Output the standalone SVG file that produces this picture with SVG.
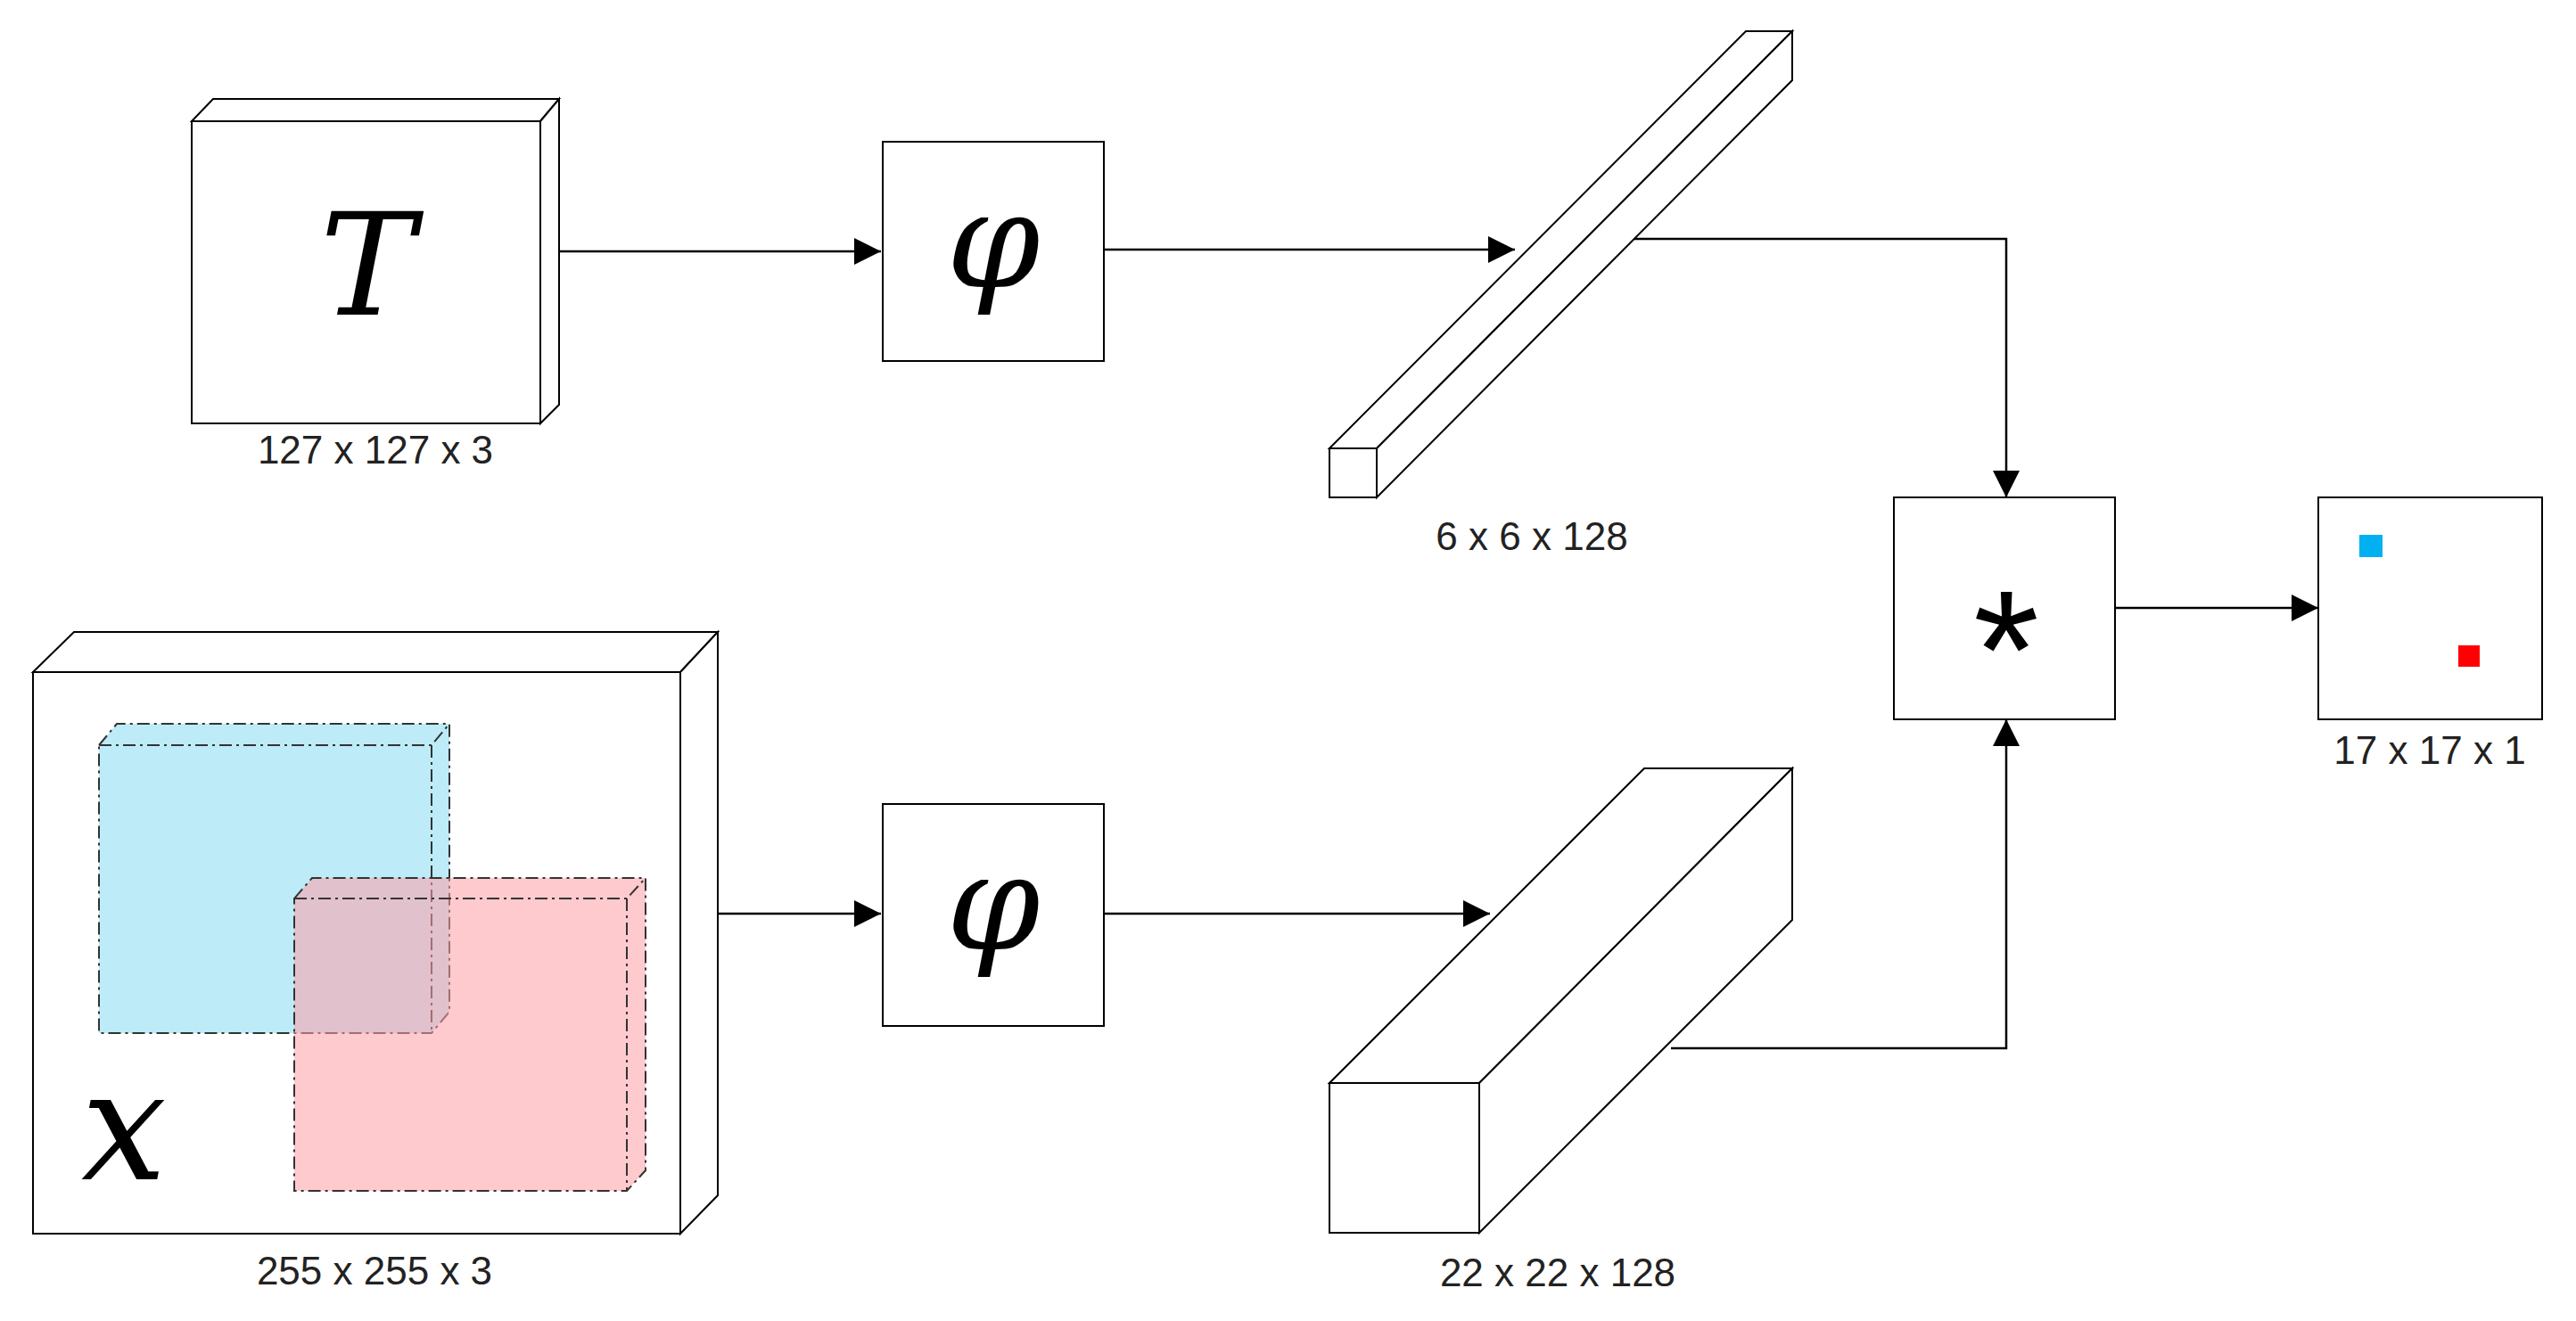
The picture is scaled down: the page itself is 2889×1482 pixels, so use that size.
<svg xmlns="http://www.w3.org/2000/svg" width="2889" height="1482" viewBox="0 0 2889 1482">
<style>
.s{fill:#fff;stroke:#000;stroke-width:2}
.c{fill:none;stroke:#000;stroke-width:2.5}
.lbl{font-family:"Liberation Sans",Arial,sans-serif;font-size:44px;fill:#222;text-anchor:middle}
.m{font-family:"DejaVu Serif","Liberation Serif",serif;font-style:italic;fill:#000;text-anchor:middle}
.dd{stroke:#333;stroke-width:2;stroke-dasharray:14 5 3 5}
</style>
<defs>
<marker id="a" viewBox="0 0 10 10" refX="10" refY="5" markerWidth="30" markerHeight="30" markerUnits="userSpaceOnUse" orient="auto"><path d="M0,0L10,5L0,10z" fill="#000"/></marker>
</defs>
<rect width="2889" height="1482" fill="#fff"/>
<g id="T">
<path class="s" d="M215,136L239,111L627,111L606,136z"/>
<path class="s" d="M606,136L627,111L627,454L606,475z"/>
<rect class="s" x="215" y="136" width="391" height="339"/>
<text class="m" x="412" y="353" font-size="160">T</text>
<text class="lbl" x="421" y="520">127 x 127 x 3</text>
</g>
<g id="phi1">
<rect class="s" x="990" y="159" width="248" height="246"/>
<text class="m" x="1114" y="322" font-size="150">φ</text>
</g>
<g id="bar1">
<path class="s" d="M1491,503L1958,35L2010,35L1544,503z"/>
<path class="s" d="M1544,503L2010,35L2010,90L1544,558z"/>
<rect class="s" x="1491" y="503" width="53" height="55"/>
<text class="lbl" x="1718" y="617">6 x 6 x 128</text>
</g>
<g id="X">
<path class="s" d="M37,754L83,709L805,709L763,754z"/>
<path class="s" d="M763,754L805,709L805,1341L763,1384z"/>
<rect class="s" x="37" y="754" width="726" height="630"/>
<g>
<path class="dd" fill="#bdebf8" d="M111,836L131,812L504,812L504,1135L484,1159L111,1159z"/>
<path class="dd" fill="none" d="M111,836L484,836L504,812M484,836L484,1159"/>
</g>
<g>
<path class="dd" fill="#ff9fa6" fill-opacity="0.55" d="M330,1008L350,985L724,985L724,1313L703,1336L330,1336z"/>
<path class="dd" fill="none" d="M330,1008L703,1008L724,985M703,1008L703,1336"/>
</g>
<text class="m" x="139" y="1323" font-size="170">x</text>
<text class="lbl" x="420" y="1441">255 x 255 x 3</text>
</g>
<g id="phi2">
<rect class="s" x="990" y="902" width="248" height="249"/>
<text class="m" x="1114" y="1065" font-size="150">φ</text>
</g>
<g id="bar2">
<path class="s" d="M1491,1215L1844,862L2010,862L1659,1215z"/>
<path class="s" d="M1659,1215L2010,862L2010,1032L1659,1383z"/>
<rect class="s" x="1491" y="1215" width="168" height="168"/>
<text class="lbl" x="1747" y="1443">22 x 22 x 128</text>
</g>
<g id="conv">
<rect class="s" x="2124" y="558" width="248" height="249"/>
<text x="2250" y="794" font-family="Liberation Sans,Arial,sans-serif" font-size="190" text-anchor="middle">*</text>
</g>
<g id="out">
<rect class="s" x="2600" y="558" width="251" height="249"/>
<rect x="2646" y="600" width="26" height="25" fill="#00b0f0"/>
<rect x="2757" y="724" width="24" height="24" fill="#ff0000"/>
<text class="lbl" x="2725" y="857">17 x 17 x 1</text>
</g>
<g id="connectors">
<path class="c" d="M627,282L988,282" marker-end="url(#a)"/>
<path class="c" d="M1238,280L1699,280" marker-end="url(#a)"/>
<path class="c" d="M1833,268L2250,268L2250,558" marker-end="url(#a)"/>
<path class="c" d="M2372,682L2600,682" marker-end="url(#a)"/>
<path class="c" d="M805,1025L988,1025" marker-end="url(#a)"/>
<path class="c" d="M1238,1025L1671,1025" marker-end="url(#a)"/>
<path class="c" d="M1874,1176L2250,1176L2250,807" marker-end="url(#a)"/>
</g>
</svg>
